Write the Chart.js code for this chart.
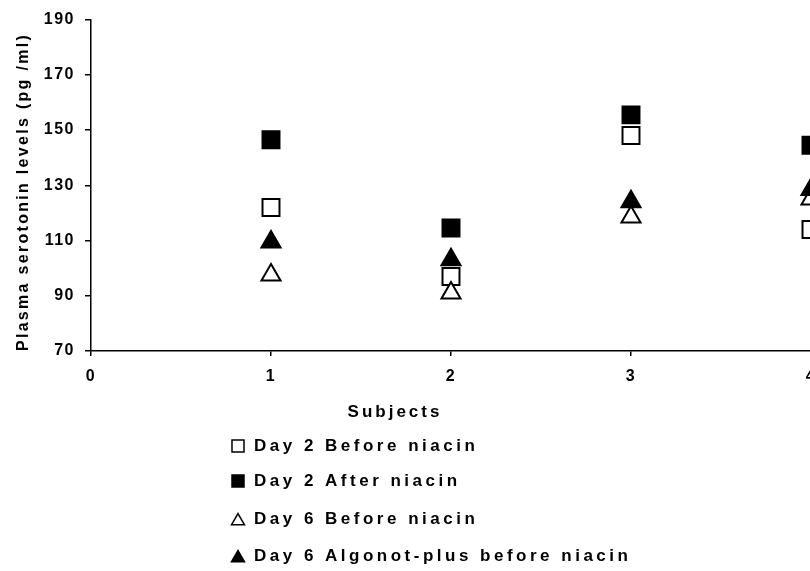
<!DOCTYPE html>
<html>
<head>
<meta charset="utf-8">
<script src="https://cdn.jsdelivr.net/npm/chart.js@4/dist/chart.umd.min.js"></script>
<style>
  html, body { margin: 0; padding: 0; background: #fff; overflow: hidden; }
  #wrap { width: 810px; height: 571px; overflow: hidden; }
</style>
</head>
<body>
<div id="wrap"><canvas id="chart" width="1010" height="571"></canvas></div>
<script>
// values
const subjects = [1, 2, 3, 4];
const day2Before = [122, 97, 148, 114];
const day2After = [146.5, 114.5, 155.5, 144.5];
const day6Before = [97.5, 91, 118.5, 125];
const day6Algonot = [109.5, 103, 124, 128.5];

const xTicks = [0, 1, 2, 3, 4, 5];
const yTicks = [70, 90, 110, 130, 150, 170, 190];

const xTitle = 'Subjects';
const yTitle = 'Plasma serotonin levels (pg /ml)';
const labels = ['Day 2 Before niacin', 'Day 2 After niacin', 'Day 6 Before niacin', 'Day 6 Algonot-plus before niacin'];

const FONT = '"Liberation Sans", Arial, sans-serif';

function pts(vals) {
    return subjects.map((s, i) => ({ x: s, y: vals[i] }));
}

function series(label, vals, style, filled, order) {
    return {
        label: label,
        data: pts(vals),
        order: order, // later series sit on top, like the original
        pointStyle: style,
        pointRadius: style === 'rect' ? 12 : 11,
        pointHoverRadius: style === 'rect' ? 12 : 11,
        pointBackgroundColor: filled ? '#000' : '#fff',
        pointBorderColor: '#000',
        pointBorderWidth: 2,
        showLine: false
    };
}

// axis titles and the legend list under the chart
const extraText = {
    id: 'extraText',
    beforeDraw(chart) {
        chart.ctx.letterSpacing = '1.5px';
    },
    afterDraw(chart) {
        const ctx = chart.ctx;
        ctx.save();
        ctx.fillStyle = '#000';
        ctx.strokeStyle = '#000';

        // y title
        ctx.save();
        ctx.font = 'bold 16px ' + FONT;
        ctx.letterSpacing = '2.3px';
        ctx.translate(28, 192);
        ctx.rotate(-Math.PI / 2);
        ctx.textAlign = 'center';
        ctx.textBaseline = 'alphabetic';
        ctx.fillText(yTitle, 0, 0);
        ctx.restore();

        // x title
        ctx.font = 'bold 17px ' + FONT;
        ctx.letterSpacing = '3px';
        ctx.textAlign = 'center';
        ctx.textBaseline = 'middle';
        ctx.fillText(xTitle, 395, 412);

        // legend
        const rows = [446, 481, 519, 556];
        ctx.letterSpacing = '3.5px';
        ctx.textAlign = 'left';
        chart.data.datasets.forEach((ds, i) => {
            const y = rows[i];
            ctx.fillStyle = ds.pointBackgroundColor;
            ctx.strokeStyle = '#000';
            ctx.lineWidth = 1.5;
            Chart.helpers.drawPoint(ctx, {
                pointStyle: ds.pointStyle,
                radius: ds.pointStyle === 'rect' ? 8.5 : 7.5,
                rotation: 0,
                borderWidth: 1.5
            }, 238, ds.pointStyle === 'rect' ? y : y + 2);
            ctx.fillStyle = '#000';
            ctx.fillText(ds.label, 254, y);
        });
        ctx.restore();
    }
};

new Chart(document.getElementById('chart'), {
    type: 'scatter',
    data: {
        datasets: [
            series(labels[0], day2Before, 'rect', false, 4),
            series(labels[1], day2After, 'rect', true, 3),
            series(labels[2], day6Before, 'triangle', false, 2),
            series(labels[3], day6Algonot, 'triangle', true, 1)
        ]
    },
    options: {
        responsive: false,
        animation: false,
        events: [],
        layout: { padding: { top: 18, right: 19, left: 0, bottom: 0 } },
        plugins: {
            legend: { display: false },
            tooltip: { enabled: false }
        },
        scales: {
            x: {
                type: 'linear',
                min: xTicks[0],
                max: xTicks[xTicks.length - 1],
                afterBuildTicks(scale) { scale.ticks = xTicks.map(v => ({ value: v })); },
                afterFit(scale) { scale.height = 220; },
                grid: { display: true, drawOnChartArea: false, drawTicks: true, tickLength: 5, color: '#000', lineWidth: 1.5 },
                border: { display: true, color: '#000', width: 1.5 },
                ticks: { color: '#000', padding: 11, font: { family: FONT, size: 16, weight: 'bold' } }
            },
            y: {
                min: yTicks[0],
                max: yTicks[yTicks.length - 1],
                afterBuildTicks(scale) { scale.ticks = yTicks.map(v => ({ value: v })); },
                afterFit(scale) { scale.width = 91; },
                grid: { display: true, drawOnChartArea: false, drawTicks: true, tickLength: 6, color: '#000', lineWidth: 1.5 },
                border: { display: true, color: '#000', width: 1.5 },
                ticks: { color: '#000', padding: 10, font: { family: FONT, size: 16, weight: 'bold' } }
            }
        }
    },
    plugins: [extraText]
});
</script>
</body>
</html>
